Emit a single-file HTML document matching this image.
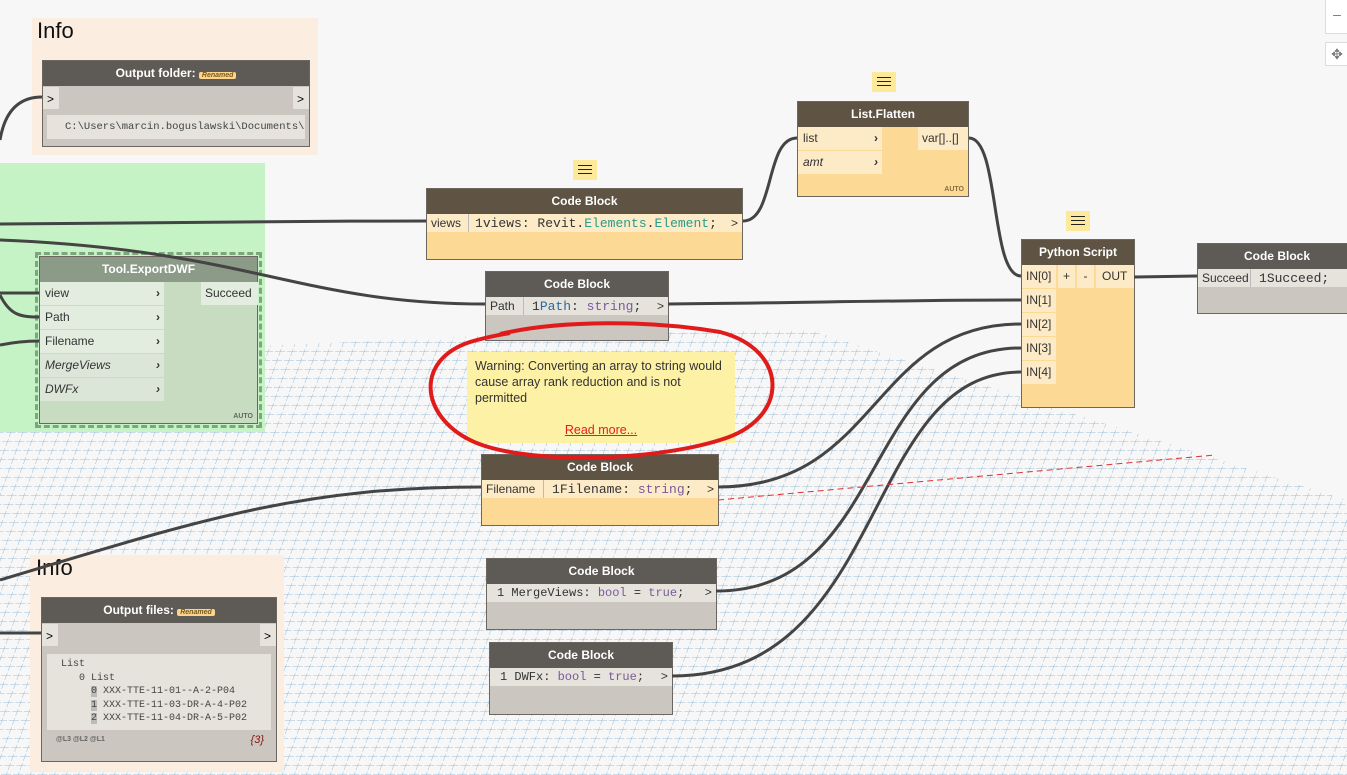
<!DOCTYPE html>
<html><head><meta charset="utf-8"><style>
*{box-sizing:border-box;margin:0;padding:0}
body{width:1347px;height:775px;overflow:hidden;background:#f7f7f7;font-family:"Liberation Sans",sans-serif;position:relative}
.a{position:absolute}
.node{position:absolute;border:1px solid #6b6660}
.hd{position:absolute;left:0;right:0;top:0;height:25px;color:#fff;font-weight:bold;font-size:12px;text-align:center;line-height:25px}
.gh{background:#5e5b57}.yh{background:#5f5443}
.gb{background:#cbc6bf}.yb{background:#fcd995}
.mono{font-family:"Liberation Mono",monospace;font-size:13px}
.row{position:absolute;font-size:12px;line-height:22px;color:#333;white-space:nowrap;overflow:hidden}
.pu{color:#7a5a9a}.te{color:#2a9a8a}
.note{position:absolute;width:24px;height:20px;background:#fde99a;padding:5px 5px}
.note i{display:block;height:1px;background:#222;margin-bottom:3px}
</style></head><body>
<svg class="a" style="left:0;top:0" width="1347" height="775">
<defs><pattern id="g" width="12" height="9" patternUnits="userSpaceOnUse" patternTransform="skewX(-20)">
<path d="M0 0H12M0 0V9" stroke="#98b9d2" stroke-width="1" stroke-dasharray="5 2" fill="none"/></pattern></defs>
<polygon points="0,358 500,335 810,330 1347,500 1347,775 0,775" fill="url(#g)"/>
</svg>
<!-- Info top -->
<div class="a" style="left:32px;top:18px;width:286px;height:137px;background:#fbeee0"></div>
<div class="a" style="left:37px;top:18px;font-size:22px;color:#111">Info</div>
<div class="node gb" style="left:42px;top:60px;width:268px;height:87px">
<div class="hd gh">Output folder: <span style="background:#fcd48a;color:#7a5a20;font-size:7px;font-style:italic;padding:0 3px;border-radius:2px">Renamed</span></div>
<div class="a" style="left:0;top:26px;width:16px;height:22px;background:#e6e2dc;font-size:12px;padding:5px 4px">&gt;</div>
<div class="a" style="right:0;top:26px;width:16px;height:22px;background:#e6e2dc;font-size:12px;padding:5px 4px">&gt;</div>
<div class="a" style="left:4px;top:54px;width:258px;height:24px;background:#e6e2dc;font-family:'Liberation Mono',monospace;font-size:10.5px;line-height:24px;padding-left:18px;color:#444;overflow:hidden;white-space:nowrap">C:\Users\marcin.boguslawski\Documents\R</div>
</div>
<!-- green group -->
<div class="a" style="left:0;top:163px;width:265px;height:269px;background:#c5f3c5"></div>
<div class="a" style="left:35px;top:252px;width:227px;height:176px;border:3px dashed #7ea67e"></div>
<div class="node" style="left:39px;top:256px;width:219px;height:168px;background:#c8dcc2">
<div class="hd" style="background:#8c9a88">Tool.ExportDWF</div>
<div class="row" style="left:0;top:25px;width:124px;height:23px;background:#e2ecdf;padding-left:5px">view<span style="float:right;margin-right:4px;font-weight:bold">›</span></div>
<div class="row" style="left:0;top:49px;width:124px;height:23px;background:#e2ecdf;padding-left:5px">Path<span style="float:right;margin-right:4px;font-weight:bold">›</span></div>
<div class="row" style="left:0;top:73px;width:124px;height:23px;background:#e2ecdf;padding-left:5px">Filename<span style="float:right;margin-right:4px;font-weight:bold">›</span></div>
<div class="row" style="left:0;top:97px;width:124px;height:23px;background:#dbe6d8;padding-left:5px;font-style:italic">MergeViews<span style="float:right;margin-right:4px;font-weight:bold">›</span></div>
<div class="row" style="left:0;top:121px;width:124px;height:23px;background:#dbe6d8;padding-left:5px;font-style:italic">DWFx<span style="float:right;margin-right:4px;font-weight:bold">›</span></div>
<div class="row" style="left:161px;top:25px;width:57px;height:23px;background:#e2ecdf;padding-left:4px">Succeed</div>
<div class="a" style="right:4px;bottom:3px;font-size:7px;font-weight:bold;color:#666">AUTO</div>
</div>
<!-- Code block views -->
<div class="note" style="left:573px;top:160px"><i></i><i></i><i></i></div>
<div class="node yb" style="left:426px;top:188px;width:317px;height:72px">
<div class="hd yh">Code Block</div>
<div class="row" style="left:0;top:25px;width:315px;height:18px;background:#fdebc7;line-height:18px"><span style="display:inline-block;width:42px;padding-left:4px;border-right:1px solid #bbb">views</span><span class="mono" style="padding-left:6px">1</span><span class="mono">views: Revit.<span class="te">Elements</span>.<span class="te">Element</span>;</span><span style="position:absolute;right:4px">&gt;</span></div>
</div>
<!-- Code block path -->
<div class="node gb" style="left:485px;top:271px;width:184px;height:70px">
<div class="hd gh">Code Block</div>
<div class="row" style="left:0;top:25px;width:182px;height:18px;background:#e6e2dc;line-height:18px"><span style="display:inline-block;width:38px;padding-left:4px;border-right:1px solid #bbb">Path</span><span class="mono" style="padding-left:8px">1</span><span class="mono"><span style="color:#2a6a9a">Path</span>: <span class="pu">string</span>;</span><span style="position:absolute;right:4px">&gt;</span></div>
</div>
<!-- List.Flatten -->
<div class="note" style="left:872px;top:72px"><i></i><i></i><i></i></div>
<div class="node yb" style="left:797px;top:101px;width:172px;height:96px">
<div class="hd yh">List.Flatten</div>
<div class="row" style="left:0;top:25px;width:84px;height:23px;background:#fdebc7;padding-left:5px">list<span style="float:right;margin-right:4px;font-weight:bold">›</span></div>
<div class="row" style="left:0;top:49px;width:84px;height:23px;background:#fdebc7;padding-left:5px;font-style:italic">amt<span style="float:right;margin-right:4px;font-weight:bold">›</span></div>
<div class="row" style="left:120px;top:25px;width:50px;height:23px;background:#fdebc7;padding-left:4px">var[]..[]</div>
<div class="a" style="right:4px;bottom:3px;font-size:7px;font-weight:bold;color:#8a7040">AUTO</div>
</div>
<!-- Python -->
<div class="note" style="left:1066px;top:211px"><i></i><i></i><i></i></div>
<div class="node yb" style="left:1021px;top:239px;width:114px;height:169px">
<div class="hd yh">Python Script</div>
<div class="row" style="left:0;top:25px;width:34px;height:23px;background:#fdebc7;padding-left:4px">IN[0]</div>
<div class="row" style="left:36px;top:25px;width:17px;height:23px;background:#fdebc7;text-align:center">+</div>
<div class="row" style="left:55px;top:25px;width:17px;height:23px;background:#fdebc7;text-align:center">-</div>
<div class="row" style="left:74px;top:25px;width:38px;height:23px;background:#fdebc7;padding-left:6px">OUT</div>
<div class="row" style="left:0;top:49px;width:34px;height:23px;background:#fdebc7;padding-left:4px">IN[1]</div>
<div class="row" style="left:0;top:73px;width:34px;height:23px;background:#fdebc7;padding-left:4px">IN[2]</div>
<div class="row" style="left:0;top:97px;width:34px;height:23px;background:#fdebc7;padding-left:4px">IN[3]</div>
<div class="row" style="left:0;top:121px;width:34px;height:23px;background:#fdebc7;padding-left:4px">IN[4]</div>
</div>
<!-- Succeed code block -->
<div class="node gb" style="left:1197px;top:243px;width:160px;height:71px">
<div class="hd gh">Code Block</div>
<div class="row" style="left:0;top:25px;width:160px;height:18px;background:#e6e2dc;line-height:18px"><span style="display:inline-block;width:53px;padding-left:4px;border-right:1px solid #bbb">Succeed</span><span class="mono" style="padding-left:8px">1</span><span class="mono">Succeed;</span></div>
</div>
<!-- Filename code block -->
<div class="node yb" style="left:481px;top:454px;width:238px;height:72px">
<div class="hd yh">Code Block</div>
<div class="row" style="left:0;top:25px;width:236px;height:18px;background:#fdebc7;line-height:18px"><span style="display:inline-block;width:62px;padding-left:4px;border-right:1px solid #bbb">Filename</span><span class="mono" style="padding-left:8px">1</span><span class="mono">Filename: <span class="pu">string</span>;</span><span style="position:absolute;right:4px">&gt;</span></div>
</div>
<!-- warning -->
<div class="a" style="left:467px;top:352px;width:268px;height:91px;background:#fdf1a6;font-size:12.5px;color:#333;padding:6px 8px 0 8px;line-height:16px">Warning: Converting an array to string would cause array rank reduction and is not permitted
<div style="text-align:center;margin-top:16px;color:#e02020;text-decoration:underline">Read more...</div></div>
<!-- MergeViews -->
<div class="node gb" style="left:486px;top:558px;width:231px;height:72px">
<div class="hd gh">Code Block</div>
<div class="row mono" style="left:0;top:25px;width:229px;height:18px;background:#e6e2dc;line-height:18px;padding-left:10px">1 MergeViews: <span class="pu">bool</span> = <span class="pu">true</span>;<span style="position:absolute;right:4px">&gt;</span></div>
</div>
<!-- DWFx -->
<div class="node gb" style="left:489px;top:642px;width:184px;height:73px">
<div class="hd gh">Code Block</div>
<div class="row mono" style="left:0;top:25px;width:182px;height:18px;background:#e6e2dc;line-height:18px;padding-left:10px">1 DWFx: <span class="pu">bool</span> = <span class="pu">true</span>;<span style="position:absolute;right:4px">&gt;</span></div>
</div>
<!-- Info bottom -->
<div class="a" style="left:30px;top:555px;width:254px;height:217px;background:#fbeee0"></div>
<div class="a" style="left:36px;top:555px;font-size:22px;color:#111">Info</div>
<div class="node gb" style="left:41px;top:597px;width:236px;height:165px">
<div class="hd gh">Output files: <span style="background:#fcd48a;color:#7a5a20;font-size:7px;font-style:italic;padding:0 3px;border-radius:2px">Renamed</span></div>
<div class="a" style="left:0;top:26px;width:16px;height:22px;background:#e6e2dc;font-size:12px;padding:5px 4px">&gt;</div>
<div class="a" style="right:0;top:26px;width:16px;height:22px;background:#e6e2dc;font-size:12px;padding:5px 4px">&gt;</div>
<div class="a" style="left:5px;top:56px;width:224px;height:76px;background:#e6e2dc;font-family:'Liberation Mono',monospace;font-size:10px;color:#444;line-height:13.5px;padding:4px 0 0 14px">List<br>&nbsp;&nbsp;&nbsp;0 List<br>&nbsp;&nbsp;&nbsp;&nbsp;&nbsp;<span style="background:#bbb">0</span> XXX-TTE-11-01--A-2-P04<br>&nbsp;&nbsp;&nbsp;&nbsp;&nbsp;<span style="background:#bbb">1</span> XXX-TTE-11-03-DR-A-4-P02<br>&nbsp;&nbsp;&nbsp;&nbsp;&nbsp;<span style="background:#bbb">2</span> XXX-TTE-11-04-DR-A-5-P02</div>
<div class="a" style="left:14px;top:138px;font-size:7px;font-weight:bold;color:#666">@L3 @L2 @L1</div>
<div class="a" style="right:12px;top:136px;font-size:11px;font-style:italic;color:#8a1010">{3}</div>
</div>
<!-- corner buttons -->
<div class="a" style="left:1325px;top:-2px;width:24px;height:36px;background:#fff;border:1px solid #ddd;font-size:14px;color:#777;text-align:center;line-height:30px">–</div>
<div class="a" style="left:1325px;top:42px;width:24px;height:24px;background:#fff;border:1px solid #ddd;font-size:14px;color:#777;text-align:center;line-height:22px">✥</div>
<svg class="a" style="left:0;top:0" width="1347" height="775" fill="none">
<g stroke="#444" stroke-width="3">
<path d="M0 224 C200 222 300 221 426 221"/>
<path d="M0 240 C250 250 300 304 485 304"/>
<path d="M743 221 C775 221 765 138 797 138"/>
<path d="M969 138 C1000 138 990 276 1021 276"/>
<path d="M668 304 C800 303 900 300 1021 300"/>
<path d="M718 487 C880 487 870 324 1021 324"/>
<path d="M716 591 C890 591 860 348 1021 348"/>
<path d="M672 676 C890 676 860 372 1021 372"/>
<path d="M1134 277 L1197 276"/>
<path d="M0 140 C5 110 20 97 42 97"/>
<path d="M0 293 L39 293"/>
<path d="M0 295 C10 315 20 317 39 317"/>
<path d="M0 345 C15 342 25 341 39 341"/>
<path d="M0 580 C200 520 300 487 481 487"/>
<path d="M0 633 L41 633"/>
</g>
<path d="M718 500 L1215 455" stroke="#e03030" stroke-width="1" stroke-dasharray="6 4"/>
<path d="M500 334 C560 320 650 320 720 332 C790 350 790 420 720 440 C650 462 520 465 470 440 C420 415 415 360 470 342 C490 336 505 334 510 333" stroke="#e01b1b" stroke-width="4"/>
</svg>
</body></html>
